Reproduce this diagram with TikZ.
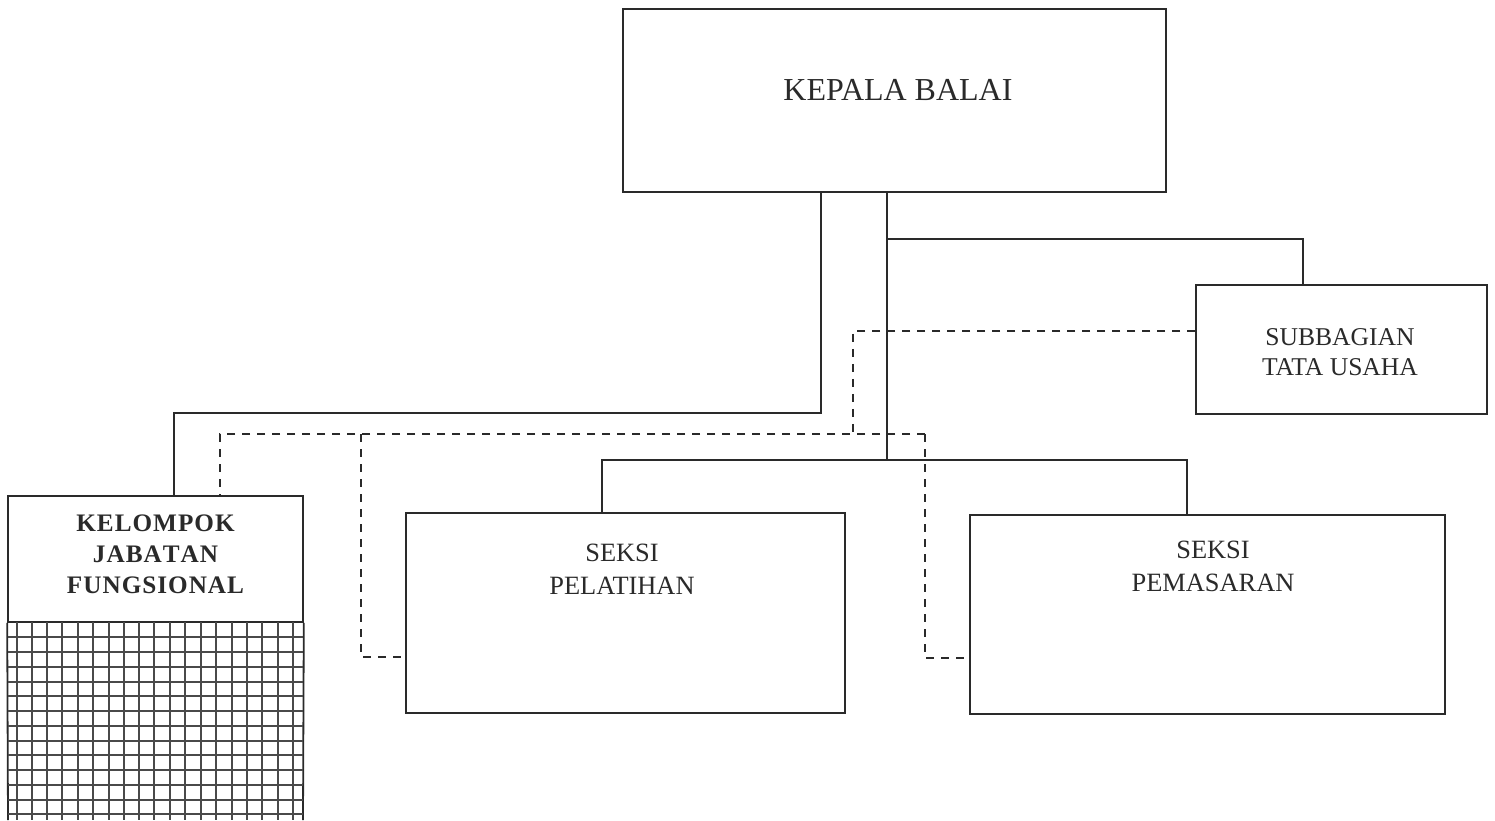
\documentclass[tikz,border=0pt]{standalone}
\usepackage{fontspec}
\setmainfont{Liberation Serif}
\definecolor{ink}{HTML}{2A2A2A}
\begin{document}
\begin{tikzpicture}[x=0.5pt,y=-0.5pt,
  box/.style={draw=ink,line width=0.8pt,rectangle,inner sep=0pt},
  conn/.style={draw=ink,line width=0.6pt},
  dconn/.style={draw=ink,line width=0.6pt,dash pattern=on 4pt off 3.5pt},
  lbl/.style={text=ink,align=center,inner sep=0pt},
  big/.style={font=\fontsize{16}{19}\selectfont},
  mid/.style={font=\fontsize{13.2}{16.5}\selectfont},
  sub/.style={font=\fontsize{12.8}{15}\selectfont},
  kel/.style={font=\bfseries\fontsize{12.6}{15.5}\selectfont},
  gridline/.style={draw=ink!85,line width=0.75pt}]
\useasboundingbox (0,0) rectangle (1495,820);
\fill[white] (0,0) rectangle (1495,820);
% boxes
\node[box,minimum width=271.5pt,minimum height=91.5pt] (kepala) at (894.5,100.5) {};
\node[box,minimum width=145.5pt,minimum height=64.5pt] (subbag) at (1341.5,349.5) {};
\node[box,minimum width=147.5pt,minimum height=63pt] (kelompok) at (155.5,559) {};
\node[box,minimum width=219.5pt,minimum height=100pt] (pel) at (625.5,613) {};
\node[box,minimum width=237.5pt,minimum height=99.5pt] (pem) at (1207.5,614.5) {};
% texts
\node[lbl,big] (tkepala) at (898,90) {KEPALA BALAI};
\node[lbl,sub] (tsubbag) at (1340,352) {SUBBAGIAN\\TATA USAHA};
\node[lbl,kel] (tkel) at (155.5,554) {K\kern0.5pt E\kern0.5pt L\kern0.5pt O\kern0.5pt M\kern0.5pt P\kern0.5pt O\kern0.5pt K\\J\kern0.5pt A\kern0.5pt B\kern0.5pt A\kern0.5pt T\kern0.5pt A\kern0.5pt N\\F\kern0.5pt U\kern0.5pt N\kern0.5pt G\kern0.5pt S\kern0.5pt I\kern0.5pt O\kern0.5pt N\kern0.5pt A\kern0.5pt L};
\node[lbl,mid] (tpel) at (622,569.5) {SEKSI\\PELATIHAN};
\node[lbl,mid] (tpem) at (1213,566) {SEKSI\\PEMASARAN};
% grid below kelompok
\draw[ink,line width=0.9pt] (kelompok.south west) -- (8,820);
\draw[ink,line width=0.9pt] (kelompok.south east) -- (303,820);
\foreach \x in {17,32,47,62,78,93,109,124,139,154,170,185,201,216,232,247,262,278,293} {
  \draw[gridline] (\x,622) -- (\x,820);
}
\foreach \y in {637,652,667,682,696,711,726,741,755,770,785,800,814} {
  \draw[gridline] (8,\y) -- (303,\y);
}
% coordinates
\coordinate (j1) at (821,413);
\coordinate (j2) at (174,413);
\coordinate (s1) at (887,239);
\coordinate (s2) at (1303,239);
\coordinate (s3) at (887,460);
\coordinate (s4) at (602,460);
\coordinate (s5) at (1187,460);
\coordinate (d1) at (853,331);
\coordinate (d2) at (853,434);
\coordinate (d3) at (220,434);
\coordinate (d4) at (361,434);
\coordinate (d5) at (925,434);
\coordinate (d6) at (361,657);
\coordinate (d7) at (925,658);
% solid connectors
\draw[conn] (kepala.south -| j1) -- (j1) -- (j2) -- (j2 |- kelompok.north);
\draw[conn] (kepala.south -| s1) -- (s3);
\draw[conn] (s1) -- (s2) -- (s2 |- subbag.north);
\draw[conn] (s4 |- pel.north) -- (s4) -- (s5) -- (s5 |- pem.north);
% dashed connectors
\draw[dconn] (subbag.west |- d1) -- (d1) -- (d2);
\draw[dconn] (d5) -- (d3) -- (d3 |- kelompok.north);
\draw[dconn] (d4) -- (d6) -- (d6 -| pel.west);
\draw[dconn] (d5) -- (d7) -- (d7 -| pem.west);
\end{tikzpicture}
\end{document}
